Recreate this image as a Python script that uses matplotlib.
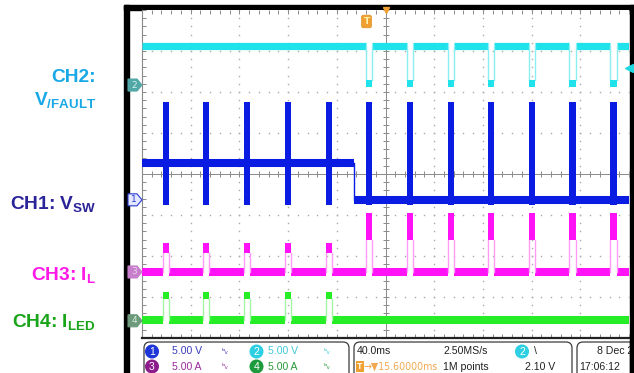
import matplotlib
matplotlib.use('Agg')
import matplotlib.pyplot as plt
import numpy as np
from matplotlib.patches import Rectangle, FancyBboxPatch, Circle, Polygon

plt.rcParams['mathtext.fontset'] = 'custom'
plt.rcParams['mathtext.bf'] = 'Liberation Sans:bold'
plt.rcParams['mathtext.rm'] = 'Liberation Sans'
plt.rcParams['mathtext.it'] = 'Liberation Sans:italic'

# ---------------- data (time in ms relative to screen centre) ----------------
pulse_start_ms = [-182.8, -149.9, -116.2, -82.6, -48.9, -16.0, 17.7, 51.3, 84.2, 117.5, 151.1, 184.8]
pulse_width_ms = 5.2
fault_ms = -25.9
trigger_ms = -15.6
trigger_level_v = 2.1

# CH1 V_SW (V)
vsw_before_v = 4.5
vsw_after_v = 0.0
vsw_spike_top_v = 11.9
vsw_spike_bottom_v = -0.6

# CH2 V/FAULT (V)
vfault_high_v = 4.75
vfault_low_top_v = 0.6
vfault_low_bottom_v = -0.25
vfault_pulse = [0, 0, 0, 0, 0, 1, 1, 1, 1, 1, 1, 1]

# CH3 I_L (A)
il_base_a = 0.0
il_block_top_a = [3.55, 3.55, 3.55, 3.55, 3.55, 7.2, 7.2, 7.2, 7.2, 7.2, 7.2, 7.2]
il_block_bottom_a = [2.3, 2.3, 2.3, 2.3, 2.3, 3.9, 3.9, 3.9, 3.9, 3.9, 3.9, 3.9]

# CH4 I_LED (A)
iled_base_a = 0.1
iled_block_top_a = [3.55, 3.55, 3.55, 3.55, 3.55, 0, 0, 0, 0, 0, 0, 0]
iled_block_bottom_a = [2.65, 2.65, 2.65, 2.65, 2.65, 0, 0, 0, 0, 0, 0, 0]

# scope settings
volts_per_div = 5.0
amps_per_div = 5.0
ms_per_div = 40.0
off_ch1, off_ch2, off_ch3, off_ch4 = -0.63, 2.17, -2.39, -3.58

# colours
C_CYAN, C_CYAN_T = '#20e2ea', '#8beef3'
C_BLUE = '#0a1be2'
C_MAG, C_MAG_T = '#ff12f5', '#ff9df6'
C_GRN, C_GRN_T = '#26ee26', '#a4f5a4'

W, H = 634, 373
fig = plt.figure(figsize=(W / 100, H / 100), dpi=100)
fig.patch.set_facecolor('white')

ov = fig.add_axes([0, 0, 1, 1], zorder=0)
ov.set_xlim(0, W)
ov.set_ylim(H, 0)
ov.axis('off')

gl, gr, gt, gb = 142, 629, 10, 338
ax = fig.add_axes([gl / W, (H - gb) / H, (gr - gl) / W, (gb - gt) / H], zorder=2)
ax.set_xlim(-5 * ms_per_div, 5 * ms_per_div)
ax.set_ylim(-4, 4)
ax.set_facecolor('white')


def dv(v, scale, off):
    return np.asarray(v, dtype=float) / scale + off


# ---------------- graticule ----------------
GRID = '#a9a9a9'
minor_x = np.arange(-200, 200.01, 8.0)
minor_y = np.arange(-4, 4.01, 0.2)
for k in range(-4, 5):
    if k == 0:
        continue
    xk = k * ms_per_div
    ax.plot(np.full_like(minor_y, xk), minor_y, ls='none', marker='s', ms=1.0, mew=0, color=GRID, zorder=1)
for j in range(-3, 4):
    if j == 0:
        continue
    ax.plot(minor_x, np.full_like(minor_x, j), ls='none', marker='s', ms=1.0, mew=0, color=GRID, zorder=1)
ax.axhline(0, color='#8a8a8a', lw=0.7, zorder=1)
ax.axvline(0, color='#8a8a8a', lw=0.7, zorder=1)
ax.plot(minor_x, np.zeros_like(minor_x), ls='none', marker='|', ms=4, mew=0.7, color='#8a8a8a', zorder=1)
ax.plot(np.zeros_like(minor_y), minor_y, ls='none', marker='_', ms=4, mew=0.7, color='#8a8a8a', zorder=1)

ax.set_xticks(minor_x)
ax.set_yticks(minor_y)
ax.tick_params(axis='both', which='both', direction='in', length=3, width=0.7, color='#8a8a8a',
               labelbottom=False, labelleft=False, top=True, right=False, bottom=True, left=True)
ax.spines['left'].set_color('#8a8a8a')
ax.spines['left'].set_linewidth(0.8)
ax.spines['top'].set_visible(False)
ax.spines['right'].set_visible(False)
ax.spines['bottom'].set_color('#222222')
ax.spines['bottom'].set_linewidth(1.6)

starts = np.asarray(pulse_start_ms)
ends = starts + pulse_width_ms
BAND = 5.8


def gapped_hlines(y, mask, color, lw):
    x0 = -200.0
    for s, e, m in zip(starts, ends, mask):
        if m:
            ax.hlines(y, x0, s, color=color, lw=lw, zorder=3)
            x0 = e
    ax.hlines(y, x0, 200.0, color=color, lw=lw, zorder=3)


# ---------------- CH2 V/FAULT ----------------
y_hi = dv(vfault_high_v, volts_per_div, off_ch2)
y_lt = dv(vfault_low_top_v, volts_per_div, off_ch2)
y_lb = dv(vfault_low_bottom_v, volts_per_div, off_ch2)
gapped_hlines(y_hi, vfault_pulse, C_CYAN, 5.2)
for s, e, m in zip(starts, ends, vfault_pulse):
    if m:
        ax.plot([s, s], [y_hi, y_lt], color=C_CYAN_T, lw=1.0, zorder=3)
        ax.plot([e, e], [y_hi, y_lt], color=C_CYAN_T, lw=1.0, zorder=3)
        ax.bar(s, y_lt - y_lb, width=pulse_width_ms, bottom=y_lb, align='edge', color=C_CYAN, zorder=3)

# ---------------- CH1 V_SW ----------------
y_b = dv(vsw_before_v, volts_per_div, off_ch1)
y_a = dv(vsw_after_v, volts_per_div, off_ch1)
ax.hlines(y_b, -200, fault_ms, color=C_BLUE, lw=BAND, zorder=4)
ax.hlines(y_a, fault_ms, 200, color=C_BLUE, lw=BAND, zorder=4)
ax.plot([fault_ms, fault_ms], [y_b, y_a], color=C_BLUE, lw=1.0, zorder=4)
y_st = dv(vsw_spike_top_v, volts_per_div, off_ch1)
y_sb = dv(vsw_spike_bottom_v, volts_per_div, off_ch1)
ax.bar(starts, y_st - y_sb, width=pulse_width_ms, bottom=y_sb, align='edge', color=C_BLUE, zorder=4)

# ---------------- CH3 I_L ----------------
y_base = dv(il_base_a, amps_per_div, off_ch3)
gapped_hlines(y_base, [1] * len(starts), C_MAG, BAND)
for s, e, t, b in zip(starts, ends, il_block_top_a, il_block_bottom_a):
    yt = dv(t, amps_per_div, off_ch3)
    yb = dv(b, amps_per_div, off_ch3)
    ax.plot([s, s], [y_base, yb], color=C_MAG_T, lw=1.0, zorder=3)
    ax.plot([e, e], [y_base, yb], color=C_MAG_T, lw=1.0, zorder=3)
    ax.bar(s, yt - yb, width=pulse_width_ms, bottom=yb, align='edge', color=C_MAG, zorder=3)

# ---------------- CH4 I_LED ----------------
y_base4 = dv(iled_base_a, amps_per_div, off_ch4)
led_mask = [1 if t > 0 else 0 for t in iled_block_top_a]
gapped_hlines(y_base4, led_mask, C_GRN, BAND)
for s, e, t, b, m in zip(starts, ends, iled_block_top_a, iled_block_bottom_a, led_mask):
    if not m:
        continue
    yt = dv(t, amps_per_div, off_ch4)
    yb = dv(b, amps_per_div, off_ch4)
    ax.plot([s, s], [y_base4, yb], color=C_GRN_T, lw=1.0, zorder=3)
    ax.plot([e, e], [y_base4, yb], color=C_GRN_T, lw=1.0, zorder=3)
    ax.bar(s, yt - yb, width=pulse_width_ms, bottom=yb, align='edge', color=C_GRN, zorder=3)

# ---------------- scope markers ----------------
ytr = ax.get_yaxis_transform()
px_x = 1.0 / (gr - gl)
px_y = 8.0 / (gb - gt)


def ch_marker(yc, label, fc, ec, tc):
    pts = [(-14, -6), (-5, -6), (0, 0), (-5, 6), (-14, 6)]
    poly = Polygon([(x * px_x, yc + y * px_y) for x, y in pts], closed=True, transform=ytr,
                   fc=fc, ec=ec, lw=0.8, clip_on=False, zorder=6)
    ax.add_patch(poly)
    ax.text(-8 * px_x, yc, label, transform=ytr, ha='center', va='center', fontsize=6.5,
            color=tc, clip_on=False, zorder=7)


ch_marker(off_ch2, '2', '#52a8a6', '#52a8a6', '#d8f0ee')
ch_marker(off_ch1, '1', '#e4e8ff', '#2a3ad0', '#2a3ad0')
ch_marker(off_ch3, '3', '#c77fcb', '#c77fcb', '#f0d0f0')
ch_marker(off_ch4, '4', '#6c9a7a', '#6c9a7a', '#d8ecdc')

xtr = ax.get_xaxis_transform()
ax.text(trigger_ms, 0.965, 'T', transform=xtr, ha='center', va='center', fontsize=6.5,
        fontweight='bold', color='#fff3b0', clip_on=False, zorder=8,
        bbox=dict(boxstyle='round,pad=0.2', fc='#f0a030', ec='#e09020', lw=0.5))
ax.plot([0], [1.0], transform=xtr, marker='v', ms=5, color='#f0a030', clip_on=False, zorder=8)
ax.plot([1.0], [dv(trigger_level_v, volts_per_div, off_ch2)], transform=ytr, marker='<', ms=6,
        color='#20d8e0', ls='none', clip_on=False, zorder=8)

# ---------------- frame ----------------
ov.add_patch(Rectangle((124, 5), 5, H - 5, color='black'))
ov.add_patch(Rectangle((124, 5), W - 124, 4.5, color='black'))
ov.add_patch(Rectangle((629.5, 5), W - 629.5, H - 5, color='black'))

# status boxes
for x0, x1 in [(144, 349), (354, 572), (577, 640)]:
    ov.add_patch(FancyBboxPatch((x0, 342), x1 - x0, 40, boxstyle='round,pad=0,rounding_size=6',
                                fc='none', ec='#3c3c3c', lw=0.9))

SF = ['Liberation Sans Narrow', 'Liberation Sans', 'DejaVu Sans']
FS = 7.6
r1, r2 = 351.5, 366.5


def circ(x, y, c, txt):
    ov.add_patch(Circle((x, y), 6.3, color=c))
    ov.text(x, y + 0.5, txt, ha='center', va='center', color='white', fontsize=7.5,
            family=SF)


circ(152, r1, '#1e35d8', '1')
circ(152, r2, '#8c1c8c', '3')
circ(256.5, r1, '#2cd0e2', '2')
circ(256.5, r2, '#1c9a3c', '4')
ov.text(172, r1, '5.00 V', va='center', color='#3b3bb8', fontsize=FS, family=SF)
ov.text(172, r2, '5.00 A', va='center', color='#9a2a9a', fontsize=FS, family=SF)
ov.text(268, r1, '5.00 V', va='center', color='#40c8d8', fontsize=FS, family=SF)
ov.text(268, r2, '5.00 A', va='center', color='#2a9a3a', fontsize=FS, family=SF)
for x, y, c in [(221, r1, '#3b3bb8'), (221, r2, '#9a2a9a'), (324, r1, '#40c8d8'), (324, r2, '#2a9a3a')]:
    ov.text(x, y, 'ᵇᵥ', va='center', color=c, fontsize=6, family=['DejaVu Sans'])
ov.text(357, r1, '40.0ms', va='center', color='#222222', fontsize=FS, family=SF)
ov.text(357, r2, 'T', va='center', color='white', fontsize=6.5, family=SF, fontweight='bold',
        bbox=dict(boxstyle='square,pad=0.12', fc='#f0a030', ec='none'))
ov.text(364, r2, '→▼15.60000ms', va='center', color='#f2a850', fontsize=FS,
        family=['DejaVu Sans'], fontstretch='condensed')
ov.text(443, r1, '2.50MS/s', va='center', color='#222222', fontsize=FS, family=SF)
ov.text(443, r2, '1M points', va='center', color='#222222', fontsize=FS, family=SF)
circ(522, r1, '#2cd0e2', '2')
ov.text(534, r1, '\\', va='center', color='#222222', fontsize=FS, family=SF)
ov.text(525, r2, '2.10 V', va='center', color='#222222', fontsize=FS, family=SF)
ov.text(597, r1, '8 Dec 2', va='center', color='#222222', fontsize=FS, family=SF, clip_on=True)
ov.text(579, r2, '17:06:12', va='center', color='#222222', fontsize=FS, family=SF, clip_on=True)
ov.add_patch(Rectangle((629.5, 340), W - 629.5, H - 340, color='black', zorder=5))

# ---------------- channel labels ----------------
LF = dict(ha='right', va='baseline', fontsize=13.8, fontweight='bold', family='Liberation Sans')
ov.text(96, 82, 'CH2:', color='#18a8e6', **LF)
ov.text(96, 105, r'$\mathbf{V_{/FAULT}}$', color='#18a8e6', **LF)
ov.text(96, 209, r'CH1: $\mathbf{V_{SW}}$', color='#2b2398', **LF)
ov.text(96, 280, r'CH3: $\mathbf{I_{L}}$', color='#ff1ae8', **LF)
ov.text(96, 327, r'CH4: $\mathbf{I_{LED}}$', color='#19a419', **LF)

fig.savefig('out.png', dpi=100)
